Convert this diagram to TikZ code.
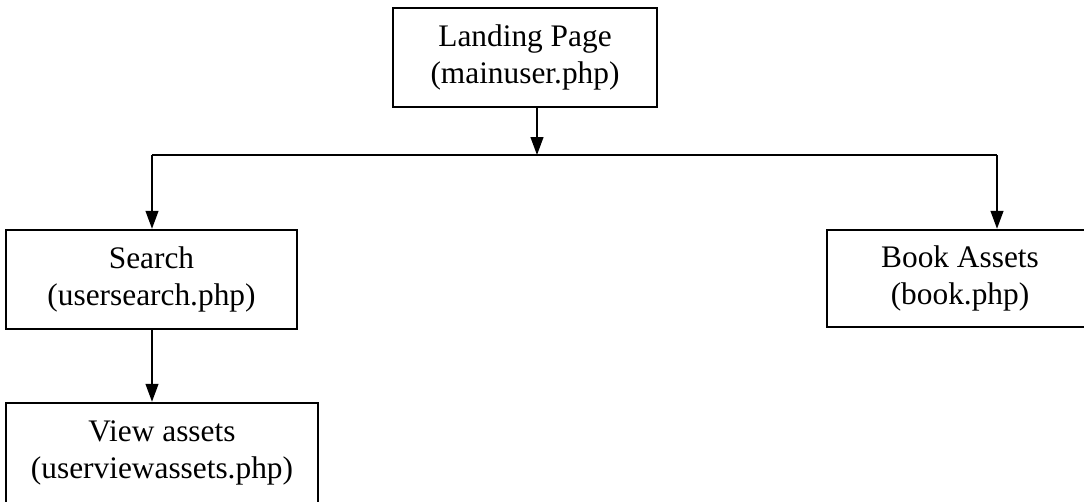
\documentclass[tikz,border=0pt]{standalone}
\usepackage{fontspec}
\setmainfont{Liberation Serif}
\usetikzlibrary{arrows.meta}
\begin{document}
\begin{tikzpicture}[x=0.025cm,y=-0.025cm,
  pagebox/.style={draw,line width=1.7pt,rectangle,align=center,inner sep=0pt,
    font=\fontsize{22.3}{26.5}\selectfont},
  link/.style={line width=1.3pt},
  flow/.style={link,-{Triangle[length=0.45cm,width=0.32cm]}}]
\clip (0,0) rectangle (1084,501);
% page nodes
\node[pagebox,minimum width=6.6cm,minimum height=2.475cm] (landing) at (525,57.5)
  {Landing Page\\(mainuser.php)};
\node[pagebox,minimum width=7.275cm,minimum height=2.475cm] (search) at (151.5,279.5)
  {Search\\(usersearch.php)};
\node[pagebox,minimum width=7.8cm,minimum height=2.5cm] (view) at (162,453)
  {View assets\\(userviewassets.php)};
\node[pagebox,minimum width=6.65cm,minimum height=2.425cm] (book) at (960,278.5)
  {Book Assets\\(book.php)};
% branch points on the distribution line
\coordinate (hub) at (537,155);
\coordinate (leftend) at (152,155);
\coordinate (rightend) at (997,155);
% connectors
\draw[flow] (landing.south -| hub) -- (hub);
\draw[link] (leftend) -- (rightend);
\draw[flow] (leftend) -- (leftend |- search.north);
\draw[flow] (rightend) -- (rightend |- book.north);
\draw[flow] (search.south -| leftend) -- (leftend |- view.north);
\end{tikzpicture}
\end{document}
